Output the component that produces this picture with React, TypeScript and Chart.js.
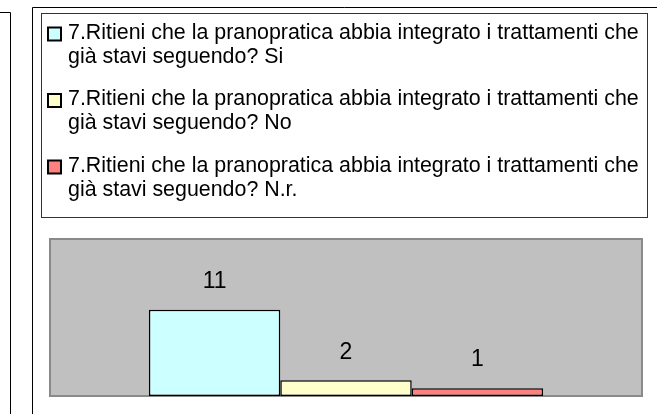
import React, { useEffect, useRef } from "react";
import { Chart, registerables } from "chart.js";

Chart.register(...registerables);

// ---- data ----
const categories: string[] = [""];
const questionText = "7.Ritieni che la pranopratica abbia integrato i trattamenti che";
const answerLines: string[] = [
  "già stavi seguendo? Si",
  "già stavi seguendo? No",
  "già stavi seguendo? N.r.",
];
const seriesValues: number[] = [11, 2, 1];
const seriesColors: string[] = ["#CCFFFF", "#FFFFCC", "#FF8080"];
const yMin = 0;
const yMax = 20;

const FONT = '"Liberation Sans", Arial, sans-serif';

const decorPlugin = {
  id: "decor",
  beforeDraw(chart: any) {
    const ctx = chart.ctx;
    ctx.save();
    // white background
    ctx.fillStyle = "#ffffff";
    ctx.fillRect(0, 0, chart.width, chart.height);
    ctx.strokeStyle = "#000000";
    ctx.lineWidth = 1;
    // left panel edge
    ctx.beginPath();
    ctx.moveTo(0, 12.5);
    ctx.lineTo(10.5, 12.5);
    ctx.lineTo(10.5, chart.height);
    ctx.stroke();
    // outer panel
    ctx.beginPath();
    ctx.moveTo(32.5, chart.height);
    ctx.lineTo(32.5, 7.5);
    ctx.lineTo(chart.width, 7.5);
    ctx.stroke();
    // legend box
    ctx.strokeStyle = "#333333";
    ctx.strokeRect(41.5, 13.5, 606, 204);
    // legend items
    const datasets = chart.data.datasets;
    ctx.font = `21.4px ${FONT}`;
    ctx.textBaseline = "middle";
    ctx.textAlign = "left";
    for (let i = 0; i < datasets.length; i++) {
      const cy = 33 + i * 66.5;
      ctx.fillStyle = datasets[i].backgroundColor;
      ctx.fillRect(48, cy - 6.5 + 1, 13, 13);
      ctx.strokeStyle = "#000000";
      ctx.lineWidth = 2;
      ctx.strokeRect(48, cy - 6.5 + 1, 13, 13);
      ctx.fillStyle = "#000000";
      const lines: string[] = datasets[i].label;
      lines.forEach((ln, j) => ctx.fillText(ln, 68, cy + j * 24));
    }
    // plot area
    const a = chart.chartArea;
    ctx.fillStyle = "#C0C0C0";
    ctx.fillRect(a.left, a.top, a.right - a.left, a.bottom - a.top);
    ctx.strokeStyle = "#8A8A8A";
    ctx.lineWidth = 2;
    ctx.strokeRect(a.left, a.top, a.right - a.left, a.bottom - a.top);
    ctx.restore();
  },
  afterDatasetsDraw(chart: any) {
    const ctx = chart.ctx;
    ctx.save();
    ctx.font = `23px ${FONT}`;
    ctx.fillStyle = "#000000";
    ctx.textAlign = "center";
    ctx.textBaseline = "middle";
    chart.data.datasets.forEach((ds: any, i: number) => {
      const meta = chart.getDatasetMeta(i);
      meta.data.forEach((el: any, j: number) => {
        ctx.fillText(String(ds.data[j]), el.x, el.y - 28);
      });
    });
    ctx.restore();
  },
};

export default function App() {
  const ref = useRef<HTMLCanvasElement | null>(null);
  useEffect(() => {
    if (!ref.current) return;
    const chart = new Chart(ref.current, {
      type: "bar",
      data: {
        labels: categories,
        datasets: seriesValues.map((v, i) => ({
          label: [questionText, answerLines[i]] as any,
          data: [v],
          backgroundColor: seriesColors[i],
          borderColor: "#000000",
          borderWidth: 1.5,
          borderSkipped: false,
          barPercentage: 1,
          categoryPercentage: 0.666,
        })),
      },
      options: {
        responsive: false,
        animation: false,
        devicePixelRatio: 1,
        layout: { padding: { left: 50, right: 15, top: 239, bottom: 18 } },
        plugins: {
          legend: { display: false },
          tooltip: { enabled: false },
        },
        scales: {
          x: { display: false },
          y: { display: false, min: yMin, max: yMax },
        },
      },
      plugins: [decorPlugin],
    });
    return () => chart.destroy();
  }, []);
  return (
    <div style={{ position: "fixed", left: 0, top: 0, width: 657, height: 414 }}>
      <canvas ref={ref} width={657} height={414} style={{ display: "block" }} />
    </div>
  );
}
